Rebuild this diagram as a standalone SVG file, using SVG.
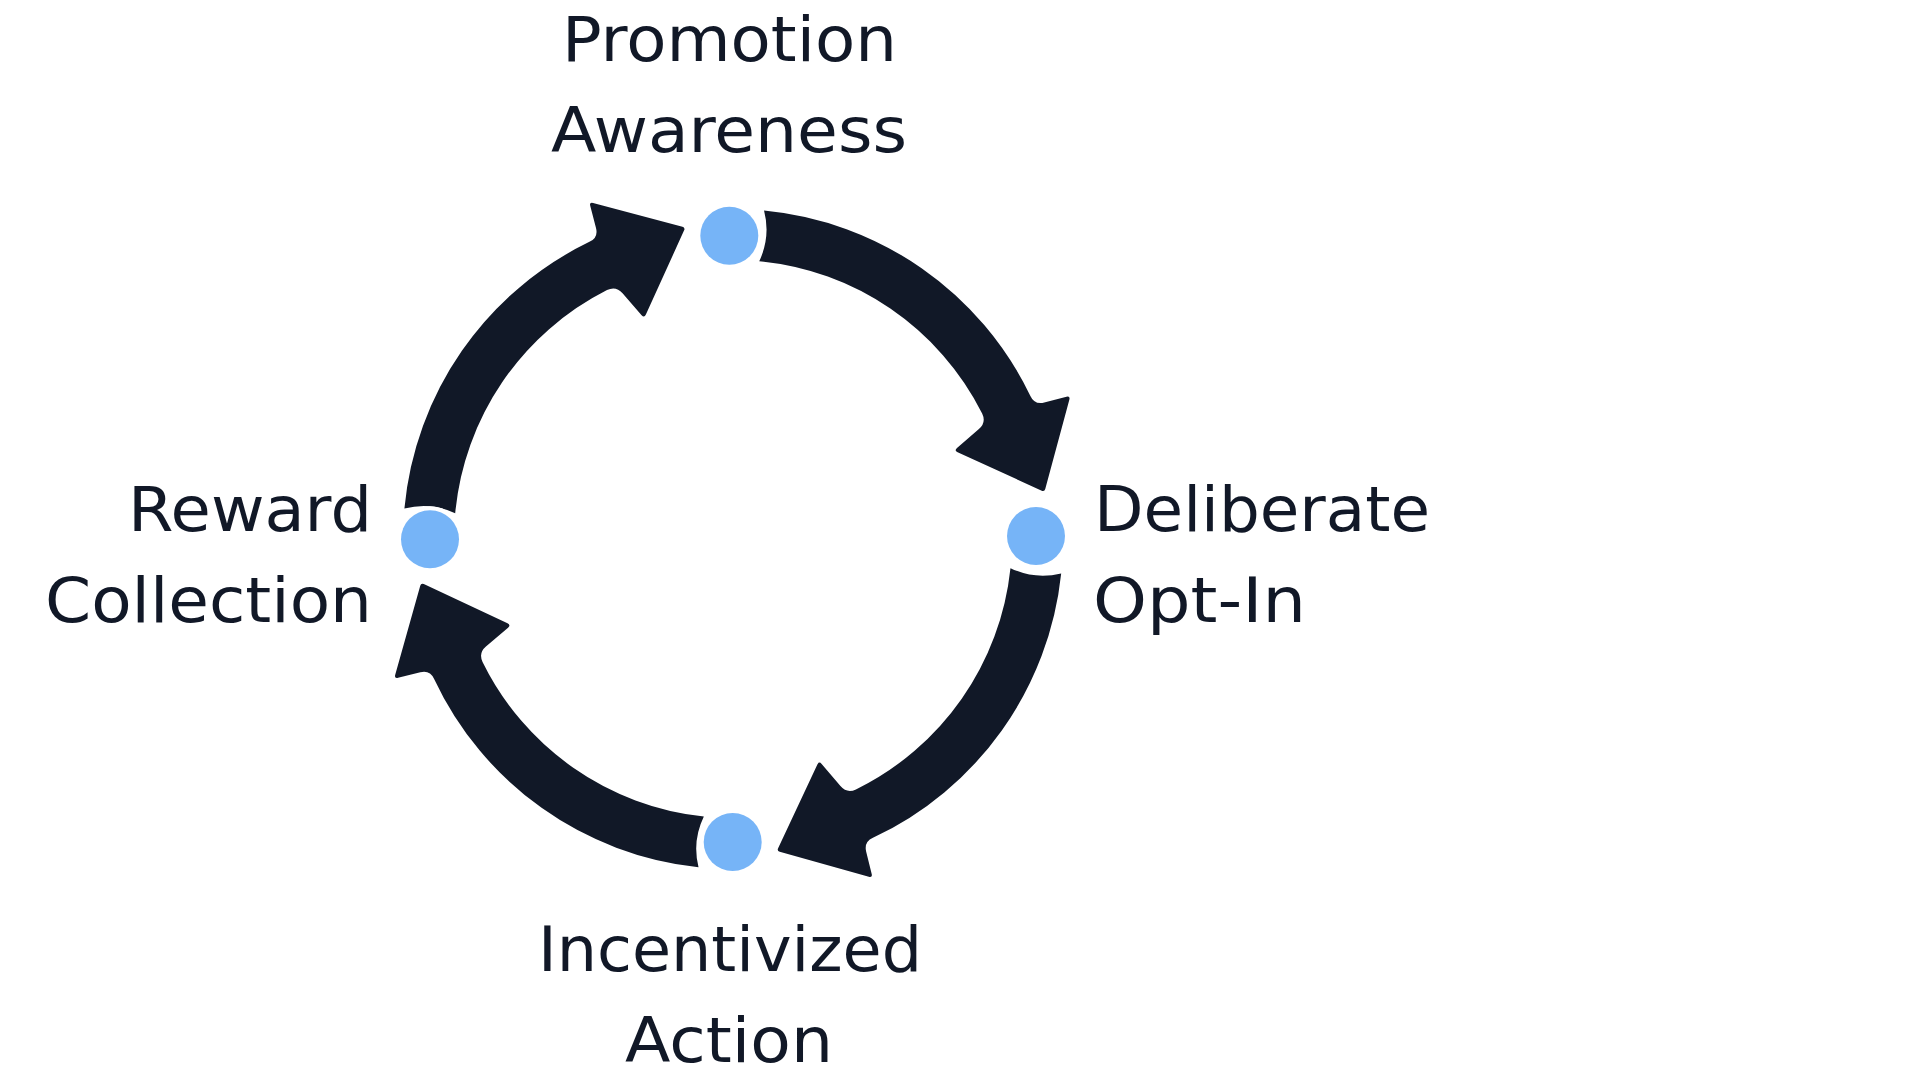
<svg xmlns="http://www.w3.org/2000/svg" xmlns:xlink="http://www.w3.org/1999/xlink" width="1920" height="1080" viewBox="0 0 1920 1080">
  <style>
    .lbl { font-family: "DejaVu Sans", "Liberation Sans", sans-serif; font-size: 63px; fill: #111827; }
    .arrow { fill: #111827; }
    .dot { fill: #76B4F7; stroke: #FFFFFF; stroke-width: 8; paint-order: stroke; }
  </style>
  <defs>
    <path id="arrow" class="arrow" d="M 34.49 -328.19 A 330 330 0 0 1 298.87 -139.93 Q 302.97 -130.79 312.68 -133.19 L 334.97 -138.70 Q 338.85 -139.66 337.77 -135.81 L 312.75 -46.73 Q 311.94 -43.84 309.22 -45.11 L 225.51 -84.37 Q 221.89 -86.07 224.94 -88.66 L 247.06 -107.45 Q 254.68 -113.92 250.45 -122.94 A 279 279 0 0 0 29.16 -277.47 A 75 75 0 0 0 34.49 -328.19 Z"/>
  </defs>
  <rect width="1920" height="1080" fill="#FFFFFF"/>
  <g id="connectors">
    <use xlink:href="#arrow" href="#arrow" transform="translate(733 539) rotate(-0.6)"/>
    <use xlink:href="#arrow" href="#arrow" transform="translate(733 539) rotate(90)"/>
    <use xlink:href="#arrow" href="#arrow" transform="translate(733 539) rotate(180)"/>
    <use xlink:href="#arrow" href="#arrow" transform="translate(733 539) rotate(269.3)"/>
  </g>
  <g id="node-promotion-awareness">
    <circle class="dot" cx="729.3" cy="235.7" r="29"/>
    <text class="lbl" x="729.5" y="61" text-anchor="middle" textLength="335" lengthAdjust="spacingAndGlyphs">Promotion</text>
    <text class="lbl" x="729" y="152" text-anchor="middle" textLength="356" lengthAdjust="spacingAndGlyphs">Awareness</text>
  </g>
  <g id="node-deliberate-opt-in">
    <circle class="dot" cx="1036" cy="536" r="29"/>
    <text class="lbl" x="1094" y="531" textLength="336" lengthAdjust="spacingAndGlyphs">Deliberate</text>
    <text class="lbl" x="1093" y="622" textLength="213" lengthAdjust="spacingAndGlyphs">Opt-In</text>
  </g>
  <g id="node-incentivized-action">
    <circle class="dot" cx="732.7" cy="842" r="29"/>
    <text class="lbl" x="730" y="971" text-anchor="middle" textLength="384" lengthAdjust="spacingAndGlyphs">Incentivized</text>
    <text class="lbl" x="729" y="1062" text-anchor="middle" textLength="208" lengthAdjust="spacingAndGlyphs">Action</text>
  </g>
  <g id="node-reward-collection">
    <circle class="dot" cx="430" cy="539.3" r="29"/>
    <text class="lbl" x="372" y="531" text-anchor="end" textLength="244" lengthAdjust="spacingAndGlyphs">Reward</text>
    <text class="lbl" x="372" y="622" text-anchor="end" textLength="327" lengthAdjust="spacingAndGlyphs">Collection</text>
  </g>
</svg>
